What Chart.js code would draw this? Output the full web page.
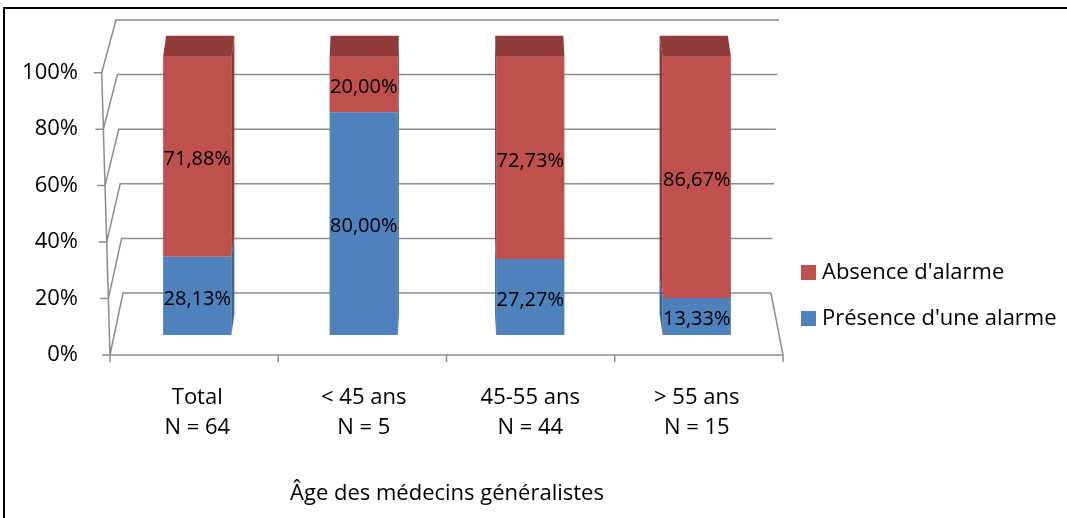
<!DOCTYPE html>
<html lang="fr">
<head>
<meta charset="utf-8">
<title>Alarme selon l'âge des médecins généralistes</title>
<script src="https://cdn.jsdelivr.net/npm/chart.js@4.4.1/dist/chart.umd.min.js"></script>
<style>
  html, body { margin: 0; padding: 0; background: #fff; }
  .wrap { position: relative; width: 1067px; height: 518px; }
</style>
</head>
<body>
<div class="wrap"><canvas id="myChart"></canvas></div>
<script>
const categories = [['Total', 'N = 64'], ['< 45 ans', 'N = 5'], ['45-55 ans', 'N = 44'], ['> 55 ans', 'N = 15']];
const presence = [28.13, 80.00, 27.27, 13.33];
const absence = [71.88, 20.00, 72.73, 86.67];
const yTicks = [0, 20, 40, 60, 80, 100];
const seriesNames = ['Présence d\'une alarme', 'Absence d\'alarme'];
const xTitle = 'Âge des médecins généralistes';

const bleu = '#4F81BD', rouge = '#C0504D';
const bleuSide = '#3A6396', rougeSide = '#8E3836', rougeTop = '#8F3B39';
const gris = '#8c8c8c';
const depth = 21;

Chart.defaults.font.family = "'Open Sans', sans-serif";
Chart.defaults.color = '#000';

function fmt(v) {
  return v.toFixed(2).replace('.', ',') + '%';
}

function noPad(scale) {
  scale.paddingTop = 0;
  scale.paddingBottom = 0;
  scale.paddingLeft = 0;
  scale.paddingRight = 0;
}

// cadre, murs et sol en pseudo 3D
const murs = {
  id: 'murs',
  beforeDraw(chart) {
    const c = chart.ctx;
    c.save();
    c.strokeStyle = '#000';
    c.lineWidth = 2;
    c.beginPath();
    c.moveTo(4, chart.height);
    c.lineTo(4, 8);
    c.lineTo(chart.width, 8);
    c.stroke();
    c.restore();
  },
  beforeDatasetsDraw(chart) {
    const c = chart.ctx;
    const a = chart.chartArea;
    const yt = chart.scales.yt, yb = chart.scales.yb;
    const frontX = v => a.left - 4 - v * 0.083;
    const backL = v => a.left + 9 - v * 0.07;
    const backR = v => a.right - 9 + v * 0.08;
    c.save();
    c.strokeStyle = gris;
    c.lineWidth = 1.5;
    c.beginPath();
    yTicks.forEach(v => {
      const fy = yt.getPixelForValue(v), by = yb.getPixelForValue(v);
      c.moveTo(frontX(v) - 8, fy);
      c.lineTo(frontX(v), fy);
      c.lineTo(backL(v), by);
      c.lineTo(backR(v), by);
    });
    // axe avant
    c.moveTo(frontX(0), yt.getPixelForValue(0));
    c.lineTo(frontX(100), yt.getPixelForValue(100));
    // sol
    const y0 = yt.getPixelForValue(0);
    c.moveTo(frontX(0), y0);
    c.lineTo(a.right + 3, y0);
    c.lineTo(backR(0), yb.getPixelForValue(0));
    const n = categories.length;
    for (let k = 0; k <= n; k++) {
      const x = frontX(0) + k * (a.right + 3 - frontX(0)) / n;
      c.moveTo(x, y0);
      c.lineTo(x, y0 + 7);
    }
    c.stroke();
    c.restore();
  },
  afterDatasetsDraw(chart) {
    const c = chart.ctx;
    const mid = (chart.chartArea.left + chart.chartArea.right) / 2 - 3;
    const metas = chart.getSortedVisibleDatasetMetas();
    const sides = [bleuSide, rougeSide];
    c.save();
    categories.forEach((cat, i) => {
      const top = metas[metas.length - 1].data[i];
      const x0 = top.x - top.width / 2, x1 = top.x + top.width / 2;
      const dx = (mid - top.x) * 0.012;
      const xe = dx > 0 ? x1 : x0;
      metas.forEach((m, j) => {
        const el = m.data[i];
        if (Math.abs(el.base - el.y) < 0.5) return;
        c.fillStyle = sides[j];
        c.beginPath();
        c.moveTo(xe, el.y);
        c.lineTo(xe + dx, el.y - depth);
        c.lineTo(xe + dx, el.base - depth);
        c.lineTo(xe, el.base);
        c.closePath();
        c.fill();
      });
      c.fillStyle = rougeTop;
      c.beginPath();
      c.moveTo(x0, top.y);
      c.lineTo(x1, top.y);
      c.lineTo(x1 + dx, top.y - depth);
      c.lineTo(x0 + dx, top.y - depth);
      c.closePath();
      c.fill();
    });
    // étiquettes de données
    c.fillStyle = '#000';
    c.font = "20px 'Open Sans', sans-serif";
    c.textAlign = 'center';
    c.textBaseline = 'middle';
    metas.forEach(m => {
      const vals = chart.data.datasets[m.index].data;
      m.data.forEach((el, i) => {
        c.fillText(fmt(vals[i]), el.x, (el.y + el.base) / 2 + 3);
      });
    });
    c.restore();
  },
  afterDraw(chart) {
    const c = chart.ctx;
    const a = chart.chartArea;
    const items = [[seriesNames[1], rouge, 272], [seriesNames[0], bleu, 318]];
    c.save();
    c.font = "22px 'Open Sans', sans-serif";
    c.textAlign = 'left';
    c.textBaseline = 'middle';
    items.forEach(([txt, col, y]) => {
      c.fillStyle = col;
      c.fillRect(a.right + 21, y - 7, 15, 15);
      c.fillStyle = '#000';
      c.fillText(txt, a.right + 42, y + 1);
    });
    c.restore();
  }
};

const ctx = document.getElementById('myChart');

new Chart(ctx, {
  type: 'bar',
  data: {
    labels: categories,
    datasets: [
      {
        label: seriesNames[0],
        data: presence,
        backgroundColor: bleu,
        borderWidth: 0,
        yAxisID: 'y'
      },
      {
        label: seriesNames[1],
        data: absence,
        backgroundColor: rouge,
        borderWidth: 0,
        yAxisID: 'y'
      }
    ]
  },
  options: {
    responsive: true,
    maintainAspectRatio: false,
    animation: false,
    layout: { padding: { top: 20, right: 287, left: 0, bottom: 0 } },
    datasets: { bar: { categoryPercentage: 1, barPercentage: 0.41 } },
    plugins: {
      legend: { display: false },
      tooltip: { enabled: false }
    },
    scales: {
      x: {
        stacked: true,
        grid: { display: false, drawTicks: false },
        border: { display: false },
        ticks: { padding: 27, font: { size: 22, lineHeight: 1.4 }, maxRotation: 0 },
        title: { display: true, text: xTitle, font: { size: 22 }, padding: { top: 0, bottom: 11 } },
        afterFit(scale) { scale.height = 163; noPad(scale); }
      },
      y: {
        stacked: true,
        display: false,
        min: -7.19,
        max: 113.18
      },
      yb: {
        display: false,
        min: -22.7,
        max: 100
      },
      yt: {
        position: 'left',
        min: 0,
        max: 118.67,
        grid: { display: false, drawTicks: false },
        border: { display: false },
        ticks: {
          stepSize: 20,
          padding: 36,
          font: { size: 22 },
          callback: v => v + '%'
        },
        afterBuildTicks(scale) {
          scale.ticks = yTicks.map(v => ({ value: v }));
        },
        afterFit(scale) { scale.width = 114; noPad(scale); }
      }
    }
  },
  plugins: [murs]
});
</script>
</body>
</html>
